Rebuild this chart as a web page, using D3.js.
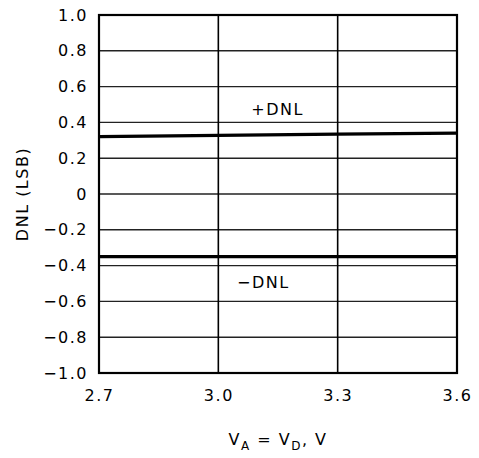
<!DOCTYPE html>
<html>
<head>
<meta charset="utf-8">
<script src="https://cdn.jsdelivr.net/npm/d3@7"></script>
<style>
  body { margin: 0; background: #fff; }
  text { font-family: "DejaVu Sans", sans-serif; fill: #000; }
</style>
</head>
<body>
<div id="chart"></div>
<script>
// data
const supply = [2.7, 3.0, 3.3, 3.6]
const dnlPos = [0.32, 0.327, 0.334, 0.34]
const dnlNeg = [-0.35, -0.35, -0.35, -0.35]
const xTicks = [2.7, 3.0, 3.3, 3.6]
const yTicks = [-1.0, -0.8, -0.6, -0.4, -0.2, 0, 0.2, 0.4, 0.6, 0.8, 1.0]

const W = 479, H = 458
const margin = { top: 15, right: 22, bottom: 85, left: 99 }
const width = W - margin.left - margin.right
const height = H - margin.top - margin.bottom
const fs = '16px'

const svg = d3.select('#chart')
    .append('svg')
    .attr('width', W)
    .attr('height', H)

const g = svg.append('g')
    .attr('transform', `translate(${margin.left}, ${margin.top})`)

const x = d3.scaleLinear().domain([2.7, 3.6]).range([0, width])
const y = d3.scaleLinear().domain([-1, 1]).range([height, 0])

const fmtY = v => v === 0 ? '0' : d3.format('.1f')(v).replace('-', '\u2212')

// horizontal grid
g.append('g')
    .selectAll('line')
    .data(yTicks)
    .join('line')
    .attr('x1', 0).attr('x2', width)
    .attr('y1', d => y(d)).attr('y2', d => y(d))
    .attr('stroke', '#222').attr('stroke-width', 1.4)

// vertical grid
g.append('g')
    .selectAll('line')
    .data(xTicks.slice(1, -1))
    .join('line')
    .attr('y1', 0).attr('y2', height)
    .attr('x1', d => x(d)).attr('x2', d => x(d))
    .attr('stroke', '#000').attr('stroke-width', 1.6)

// frame
g.append('rect')
    .attr('width', width).attr('height', height)
    .attr('fill', 'none').attr('stroke', '#000').attr('stroke-width', 2.2)

// axes (labels only)
const leftAxis = d3.axisLeft(y).tickValues(yTicks).tickFormat(fmtY).tickSize(0).tickPadding(11)
const yAxisG = g.append('g').call(leftAxis)
yAxisG.select('.domain').remove()
yAxisG.selectAll('text')
    .style('font-size', fs)
    .style('letter-spacing', '1.5px')
    .style('font-family', '"DejaVu Sans", sans-serif')

const bottomAxis = d3.axisBottom(x).tickValues(xTicks).tickFormat(d3.format('.1f')).tickSize(0).tickPadding(17)
const xAxisG = g.append('g').attr('transform', `translate(0, ${height})`).call(bottomAxis)
xAxisG.select('.domain').remove()
xAxisG.selectAll('text')
    .style('font-size', fs)
    .style('letter-spacing', '1.5px')
    .style('font-family', '"DejaVu Sans", sans-serif')

// data lines
const line = d3.line().x((d, i) => x(supply[i])).y(d => y(d))
g.append('path').datum(dnlPos).attr('d', line)
    .attr('fill', 'none').attr('stroke', '#000').attr('stroke-width', 3.2)
g.append('path').datum(dnlNeg).attr('d', line)
    .attr('fill', 'none').attr('stroke', '#000').attr('stroke-width', 3.2)

// line labels
g.append('text')
    .attr('x', x(3.149)).attr('y', y(0.44))
    .attr('text-anchor', 'middle')
    .style('font-size', fs).style('letter-spacing', '1.5px')
    .text('+DNL')
g.append('text')
    .attr('x', x(3.113)).attr('y', y(-0.525))
    .attr('text-anchor', 'middle')
    .style('font-size', fs).style('letter-spacing', '1.5px')
    .text('\u2212DNL')

// axis titles
g.append('text')
    .attr('transform', `translate(${22 - margin.left}, ${height / 2}) rotate(-90)`)
    .attr('text-anchor', 'middle')
    .attr('dy', '0.35em')
    .style('font-size', fs).style('letter-spacing', '1.5px')
    .text('DNL (LSB)')

const xt = g.append('text')
    .attr('x', width / 2).attr('y', height + 72)
    .attr('text-anchor', 'middle')
    .style('font-size', fs).style('letter-spacing', '1.5px')
xt.append('tspan').text('V')
xt.append('tspan').attr('dy', 5).style('font-size', '12px').text('A')
xt.append('tspan').attr('dy', -5).text(' = V')
xt.append('tspan').attr('dy', 5).style('font-size', '12px').text('D')
xt.append('tspan').attr('dy', -5).text(', V')
</script>
</body>
</html>
